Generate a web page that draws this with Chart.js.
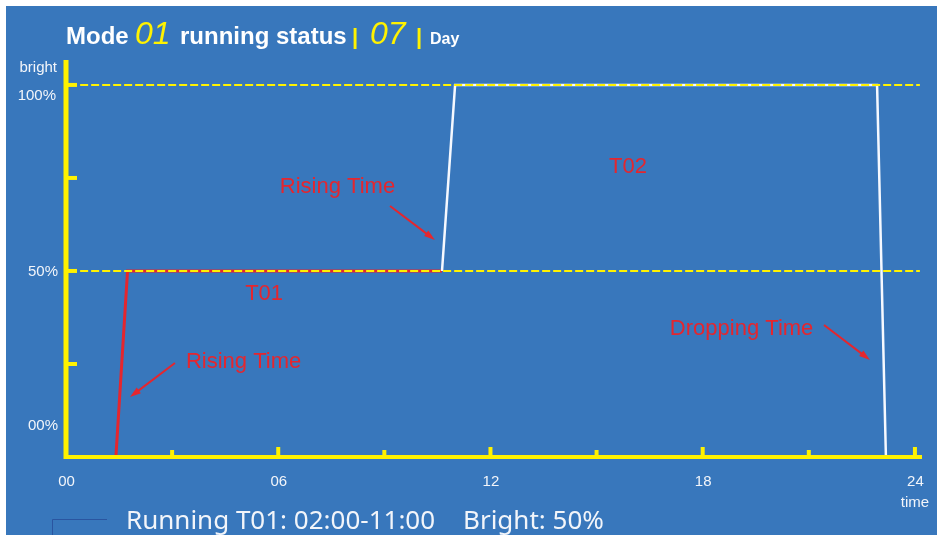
<!DOCTYPE html>
<html>
<head>
<meta charset="utf-8">
<title>Mode 01 running status</title>
<script src="https://cdn.jsdelivr.net/npm/chart.js@4.4.1/dist/chart.umd.min.js"></script>
<style>
    html, body { margin: 0; padding: 0; background: #fff; }
    #js--chart { display: block; }
</style>
</head>
<body>
<canvas id="js--chart" width="937" height="535"></canvas>
<script>
// values: hour of day on x, bright (%) on y
const t01Hours = [1.41, 1.74, 10.63];
const t01Bright = [0, 50, 50];
const t02Hours = [10.63, 11.0, 22.93, 23.18];
const t02Bright = [50, 100, 100, 0];
const refLevels = [50, 100];

const xTickValues = [0, 3, 6, 9, 12, 15, 18, 21, 24];
const xLabelValues = [0, 6, 12, 18, 24];
const xTickLabels = ['00', '06', '12', '18', '24'];
const yTickValues = [25, 50, 75, 100];
const yLabelValues = [0, 50, 100];
const yTickLabels = ['00%', '50%', '100%'];

const statusLabel = 'Running T01: 02:00-11:00';
const brightLabel = 'Bright: 50%';

const yellow = '#fff200';
const red = '#e5262e';
const blue = '#3877bc';
const textWhite = '#f2f5fa';

function toPoints(xs, ys) {
    return xs.map((v, i) => ({ x: v, y: ys[i] }));
}

function arrow(ctx, x1, y1, x2, y2) {
    const a = Math.atan2(y2 - y1, x2 - x1);
    const c = Math.cos(a), s = Math.sin(a);
    ctx.beginPath();
    ctx.moveTo(x1, y1);
    ctx.lineTo(x2 - 6 * c, y2 - 6 * s);
    ctx.stroke();
    ctx.beginPath();
    ctx.moveTo(x2, y2);
    ctx.lineTo(x2 - 11 * c + 3.5 * s, y2 - 11 * s - 3.5 * c);
    ctx.lineTo(x2 - 11 * c - 3.5 * s, y2 - 11 * s + 3.5 * c);
    ctx.closePath();
    ctx.fill();
}

// background, axes and all the texts
const decor = {
    id: 'decor',
    beforeDraw(chart) {
        const ctx = chart.ctx;
        ctx.save();
        ctx.fillStyle = '#fff';
        ctx.fillRect(0, 0, chart.width, chart.height);
        ctx.fillStyle = blue;
        ctx.fillRect(6, 6, chart.width - 6, chart.height - 6);
        ctx.restore();
    },
    afterDatasetsDraw(chart) {
        const ctx = chart.ctx;
        const x = chart.scales.x, y = chart.scales.y;
        const x0 = x.getPixelForValue(0), y0 = y.getPixelForValue(0);
        ctx.save();

        // axes
        ctx.strokeStyle = yellow;
        ctx.lineWidth = 5;
        ctx.beginPath();
        ctx.moveTo(x0, y.top);
        ctx.lineTo(x0, y0 + 2);
        ctx.stroke();
        ctx.lineWidth = 4;
        ctx.beginPath();
        ctx.moveTo(x0 - 2, y0);
        ctx.lineTo(x.right, y0);
        ctx.stroke();
        yTickValues.forEach(v => {
            const py = y.getPixelForValue(v);
            ctx.beginPath();
            ctx.moveTo(x0, py);
            ctx.lineTo(x0 + 11, py);
            ctx.stroke();
        });
        xTickValues.forEach(v => {
            if (v === 0) return;
            const px = x.getPixelForValue(v);
            const h = v % 6 === 0 ? 10 : 7;
            ctx.beginPath();
            ctx.moveTo(px, y0);
            ctx.lineTo(px, y0 - h);
            ctx.stroke();
        });

        // tick labels
        ctx.fillStyle = textWhite;
        ctx.font = '15px "Liberation Sans", Arial, sans-serif';
        ctx.textAlign = 'center';
        ctx.textBaseline = 'alphabetic';
        xLabelValues.forEach((v, i) => {
            ctx.fillText(xTickLabels[i], x.getPixelForValue(v) + 0.5, 486);
        });
        ctx.fillText('time', 915, 507);
        ctx.textAlign = 'right';
        const shift = { 0: -27, 50: 5, 100: 15 };
        yLabelValues.forEach((v, i) => {
            ctx.fillText(yTickLabels[i], v === 100 ? 56 : 58, y.getPixelForValue(v) + shift[v]);
        });
        ctx.fillText('bright', 57, 72);

        // annotations, anchored in hours / percent
        ctx.fillStyle = red;
        ctx.strokeStyle = red;
        ctx.lineWidth = 2;
        ctx.textAlign = 'center';
        ctx.font = '22px "Liberation Sans", Arial, sans-serif';
        const notes = [
            { t: 'Rising Time', x: 7.675, y: 70.97, a: [9.16, 67.47, 10.43, 58.33] },
            { t: 'T01', x: 5.6, y: 42.2 },
            { t: 'T02', x: 15.89, y: 76.34 },
            { t: 'Dropping Time', x: 19.1, y: 32.8, a: [21.43, 35.48, 22.73, 26.08] },
            { t: 'Rising Time', x: 5.02, y: 23.9, a: [3.08, 25.27, 1.81, 16.13] }
        ];
        notes.forEach(n => {
            ctx.fillText(n.t, x.getPixelForValue(n.x), y.getPixelForValue(n.y));
            if (n.a) {
                arrow(ctx, x.getPixelForValue(n.a[0]), y.getPixelForValue(n.a[1]),
                    x.getPixelForValue(n.a[2]), y.getPixelForValue(n.a[3]));
            }
        });

        // title
        ctx.textAlign = 'left';
        const title = [
            { t: 'Mode', x: 66, f: 'bold 24px "Liberation Sans", Arial', c: '#fff' },
            { t: '01', x: 135, f: 'italic 32px "Liberation Sans", Arial', c: yellow },
            { t: 'running status', x: 180, f: 'bold 24px "Liberation Sans", Arial', c: '#fff' },
            { t: '|', x: 352, f: 'bold 22px "Liberation Sans", Arial', c: yellow },
            { t: '07', x: 370, f: 'italic 32px "Liberation Sans", Arial', c: yellow },
            { t: '|', x: 416, f: 'bold 22px "Liberation Sans", Arial', c: yellow },
            { t: 'Day', x: 430, f: 'bold 16px "Liberation Sans", Arial', c: '#fff' }
        ];
        title.forEach(p => {
            ctx.font = p.f;
            ctx.fillStyle = p.c;
            ctx.fillText(p.t, p.x, 44);
        });

        // status line at the bottom
        ctx.strokeStyle = '#2a55a0';
        ctx.lineWidth = 1;
        ctx.beginPath();
        ctx.moveTo(52.5, chart.height);
        ctx.lineTo(52.5, 519.5);
        ctx.lineTo(107, 519.5);
        ctx.stroke();
        ctx.fillStyle = textWhite;
        ctx.font = '26px "Noto Sans", "Open Sans", sans-serif';
        ctx.fillText(statusLabel, 126, 529);
        ctx.fillText(brightLabel, 463, 529);

        ctx.restore();
    }
};

const refData = refLevels.map(v => toPoints([0.4, 24.14], [v, v]));

new Chart(document.getElementById('js--chart'), {
    type: 'line',
    data: {
        datasets: [
            { data: refData[0], borderColor: yellow, borderWidth: 2, borderDash: [8, 3] },
            { data: refData[1], borderColor: yellow, borderWidth: 2, borderDash: [8, 3] },
            { data: toPoints(t02Hours, t02Bright), borderColor: '#f6f9ff', borderWidth: 2.5 },
            { data: toPoints(t01Hours, t01Bright), borderColor: red, borderWidth: 3 }
        ]
    },
    options: {
        responsive: false,
        animation: false,
        devicePixelRatio: 1,
        layout: { padding: { left: 66, right: 15, top: 60, bottom: 78 } },
        elements: { point: { radius: 0, hoverRadius: 0 }, line: { tension: 0 } },
        scales: {
            x: { type: 'linear', min: 0, max: 24.2, display: false },
            y: { min: 0, max: 106.7, display: false }
        },
        plugins: { legend: { display: false }, tooltip: { enabled: false } }
    },
    plugins: [decor]
});
</script>
</body>
</html>
